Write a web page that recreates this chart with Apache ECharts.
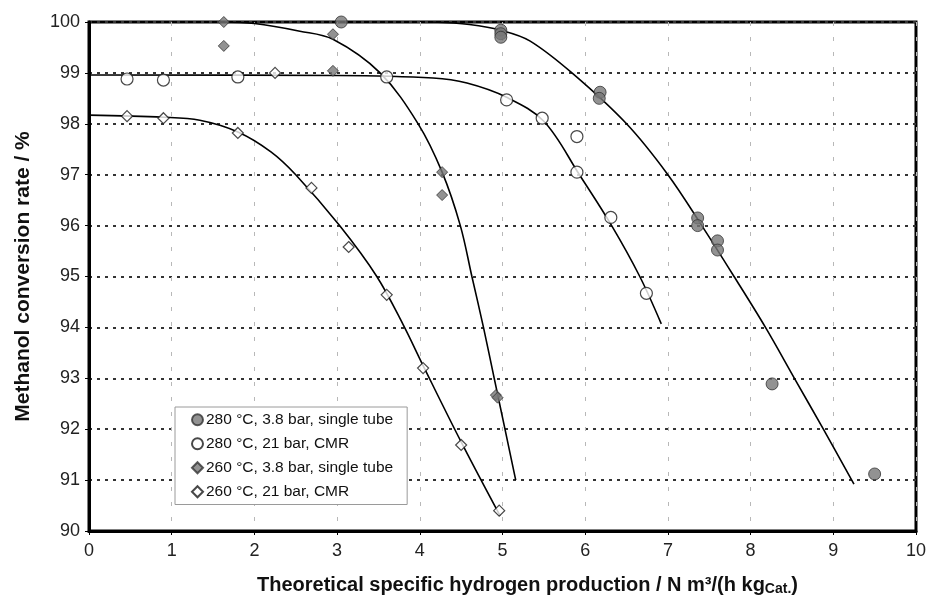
<!DOCTYPE html>
<html>
<head>
<meta charset="utf-8">
<script src="https://cdn.jsdelivr.net/npm/echarts@6/dist/echarts.min.js"></script>
<style>
html,body{margin:0;padding:0;background:#fff;}
#chart{width:929px;height:604px;}
</style>
</head>
<body>
<div id="chart"></div>
<script>
// ---- Data ----
const seriesNames = [
  '280 °C, 3.8 bar, single tube',
  '280 °C, 21 bar, CMR',
  '260 °C, 3.8 bar, single tube',
  '260 °C, 21 bar, CMR'
];
const pts280Single = [[3.05,100.0],[4.98,99.84],[4.98,99.77],[4.98,99.7],[6.18,98.62],[6.17,98.5],[7.36,96.15],[7.36,96.0],[7.6,95.7],[7.6,95.52],[8.26,92.89],[9.5,91.12]];
const pts280CMR = [[0.46,98.88],[0.9,98.86],[1.8,98.92],[3.6,98.92],[5.05,98.47],[5.48,98.11],[5.9,97.75],[5.9,97.05],[6.31,96.16],[6.74,94.67]];
const pts260Single = [[1.63,100.0],[1.63,99.53],[2.95,99.76],[2.95,99.04],[4.27,97.05],[4.27,96.6],[4.92,92.67],[4.94,92.62]];
const pts260CMR = [[0.46,98.15],[0.9,98.11],[1.8,97.82],[2.25,99.0],[2.69,96.74],[3.14,95.58],[3.6,94.64],[4.04,93.2],[4.5,91.69],[4.96,90.4]];

// fitted curves
const fit280Single = [[4.15,100],[4.6,99.95],[5.0,99.83],[5.33,99.63],[5.84,99.0],[6.5,98.0],[7.0,97.0],[7.41,96.0],[7.8,95.0],[8.18,94.0],[8.53,93.0],[8.88,92.0],[9.25,90.92]];
const fit280CMR = [[0,98.96],[3.0,98.95],[4.16,98.9],[4.57,98.8],[5.05,98.52],[5.5,98.05],[5.93,97.0],[6.32,96.0],[6.66,95.0],[6.92,94.07]];
const fit260Single = [[1.6,100],[2.0,99.97],[2.55,99.82],[2.95,99.66],[3.52,99.0],[3.98,98.0],[4.27,97.05],[4.49,96.0],[4.63,95.0],[4.77,94.0],[4.9,93.0],[5.03,92.0],[5.16,91.0]];
const fit260CMR = [[0,98.17],[0.9,98.13],[1.34,98.07],[1.8,97.84],[2.2,97.45],[2.5,97.0],[3.03,96.0],[3.48,95.0],[3.8,94.05],[4.04,93.25],[4.5,91.75],[4.97,90.3]];

const xTitle = 'Theoretical specific hydrogen production / N m³/(h kg{sub|Cat.})';
const yTitle = 'Methanol conversion rate / %';

// ---- Chart ----
const FONT = '"Liberation Sans", Arial, Helvetica, sans-serif';
const chart = echarts.init(document.getElementById('chart'), null, {renderer:'canvas'});

function fitLine(data){
  return {type:'line', data:data, smooth:0.35, showSymbol:false, symbol:'none', silent:true,
    lineStyle:{color:'#000', width:1.6}, z:2, legendHoverLink:false};
}
const filled = {color:'#777777', borderColor:'#333333', borderWidth:1};
const open = {color:'#ffffff', borderColor:'#1a1a1a', borderWidth:1.2};

chart.setOption({
  animation:false,
  backgroundColor:'#fff',
  textStyle:{fontFamily:FONT},
  grid:{left:89, right:12, top:22, bottom:73, show:true, borderColor:'#000', borderWidth:3, backgroundColor:'transparent'},
  legend:{
    data:seriesNames.map(n=>({name:n})),
    orient:'vertical', left:175, top:407,
    backgroundColor:'#fff', borderColor:'#9a9a9a', borderWidth:1,
    padding:[4,14,4,16], itemGap:6.5, itemWidth:11, itemHeight:11,
    textStyle:{fontSize:15.5, fontFamily:FONT, color:'#111', lineHeight:17.5, padding:[0,0,0,-2]},
    selectedMode:false
  },
  xAxis:{
    type:'value', min:0, max:10, interval:1,
    axisLine:{show:true, lineStyle:{color:'#000', width:3}},
    axisTick:{show:true, length:4, lineStyle:{color:'#000', width:1}},
    axisLabel:{fontSize:18, color:'#222', margin:11, fontFamily:FONT},
    splitLine:{show:true, lineStyle:{color:'#b8b8b8', width:1, type:[4,11]}},
    name:xTitle, nameLocation:'middle', nameGap:43,
    nameTextStyle:{fontSize:20, fontWeight:'bold', color:'#111', fontFamily:FONT, padding:[0,0,0,50],
      rich:{sub:{fontSize:14, fontWeight:'bold', color:'#111', verticalAlign:'bottom', padding:[8,0,0,0], fontFamily:FONT}}}
  },
  yAxis:{
    type:'value', min:90, max:100, interval:1,
    axisLine:{show:true, lineStyle:{color:'#000', width:3}},
    axisTick:{show:true, length:4, lineStyle:{color:'#000', width:1}},
    axisLabel:{fontSize:18, color:'#222', margin:9, fontFamily:FONT},
    splitLine:{show:true, lineStyle:{color:'#333', width:2, type:[3,5]}},
    name:yTitle, nameLocation:'middle', nameGap:55,
    nameTextStyle:{fontSize:21, fontWeight:'bold', color:'#111', fontFamily:FONT}
  },
  series:[
    fitLine(fit280Single), fitLine(fit280CMR), fitLine(fit260Single), fitLine(fit260CMR),
    {name:seriesNames[0], type:'scatter', data:pts280Single, symbol:'circle', symbolSize:12, itemStyle:filled, z:5},
    {name:seriesNames[1], type:'scatter', data:pts280CMR, symbol:'circle', symbolSize:12, itemStyle:open, z:5},
    {name:seriesNames[2], type:'scatter', data:pts260Single, symbol:'diamond', symbolSize:11, itemStyle:filled, z:5},
    {name:seriesNames[3], type:'scatter', data:pts260CMR, symbol:'diamond', symbolSize:11, itemStyle:open, z:5}
  ]
});
</script>
</body>
</html>
